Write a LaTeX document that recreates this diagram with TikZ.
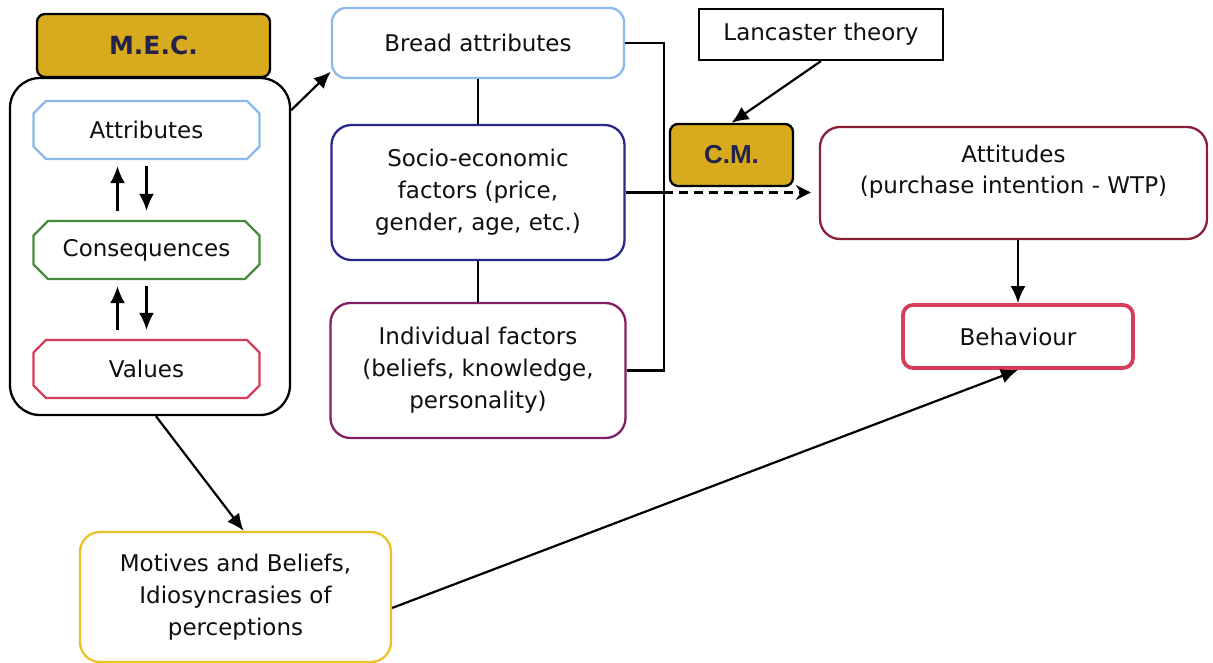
\documentclass[tikz,border=0pt]{standalone}
\usepackage{fontspec}
\setmainfont{DejaVu Sans}
\newfontfamily\cmfont{Liberation Sans}
\usetikzlibrary{shapes.misc,arrows.meta,calc}

\definecolor{gold}{RGB}{216,170,30}
\definecolor{navy}{RGB}{35,35,75}
\definecolor{txt}{RGB}{15,15,15}
\definecolor{lightblue}{RGB}{140,185,235}
\definecolor{leafgreen}{RGB}{70,140,60}
\definecolor{rosered}{RGB}{215,60,90}
\definecolor{deepblue}{RGB}{40,40,140}
\definecolor{plum}{RGB}{130,30,100}
\definecolor{wine}{RGB}{140,30,55}
\definecolor{amber}{RGB}{235,195,40}

\begin{document}
\begin{tikzpicture}[x=1pt,y=-1pt,
  base/.style={draw, line width=2.3pt, fill=white, align=center, inner sep=0pt,
               text=txt, font=\fontsize{23}{32}\selectfont},
  rbox/.style={base, rounded corners=#1},
  rbox/.default=18pt,
  octbox/.style={base, chamfered rectangle, chamfered rectangle xsep=14pt,
                 minimum width=226pt, minimum height=58pt},
  tag/.style={draw=black, line width=2.3pt, fill=gold, rounded corners=8pt,
              text=navy, inner sep=0pt},
  link/.style={line width=2.2pt, draw=black},
  arr/.style={link, -{Latex[length=17pt,width=15pt]}},
]
\useasboundingbox (0,0) rectangle (1213,663);

% means-end chain block
\node[rbox=30pt, minimum width=280pt, minimum height=337pt] (mecbox) at (150,246.5) {};
\node[tag, minimum width=233pt, minimum height=63pt,
      font=\fontsize{25}{28}\selectfont\bfseries] (mec) at (153.5,45.5) {M.E.C.};
\node[octbox, draw=lightblue] (attr) at (146.5,130) {Attributes};
\node[octbox, draw=leafgreen] (cons) at (146.5,250) {Consequences};
\node[octbox, draw=rosered] (vals) at (146.5,369) {Values};

\draw[arr, shorten <=9pt, shorten >=6pt] ([xshift=-29pt]cons.north) -- ([xshift=-29pt]attr.south);
\draw[arr, shorten <=6pt, shorten >=9pt] (attr.south) -- (cons.north);
\draw[arr, shorten <=9pt, shorten >=6pt] ([xshift=-29pt]vals.north) -- ([xshift=-29pt]cons.south);
\draw[arr, shorten <=6pt, shorten >=9pt] (cons.south) -- (vals.north);

% factor column
\node[rbox=14pt, draw=lightblue, minimum width=292pt, minimum height=70pt] (bread) at (478,43) {Bread attributes};
\node[rbox=20pt, draw=deepblue, minimum width=293pt, minimum height=135pt] (socio) at (478,192.5)
  {Socio-economic\\factors (price,\\gender, age, etc.)};
\node[rbox=20pt, draw=plum, minimum width=295pt, minimum height=135pt] (indiv) at (478,370.5)
  {Individual factors\\(beliefs, knowledge,\\personality)};

\draw[link] (bread.south) -- (socio.north);
\draw[link] (socio.south) -- (indiv.north);

\coordinate (rail) at (664,0);
\draw[link] (bread.east) -| (rail |- indiv.east) -- (indiv.east);
\draw[link] (socio.east) -- (rail |- socio.east);

% choice modelling
\node[draw=black, line width=2.2pt, fill=white, inner sep=0pt, text=txt,
      font=\fontsize{23}{28}\selectfont, minimum width=244pt, minimum height=51pt] (lanc) at (821,34.5) {Lancaster theory};
\node[tag, minimum width=123pt, minimum height=62pt,
      font=\fontsize{26}{30}\selectfont\cmfont\bfseries] (cm) at (731.5,155) {C.M.};
\draw[arr] (lanc.south) -- (cm.north);

% outcomes
\node[rbox=20pt, draw=wine, minimum width=387pt, minimum height=112pt] (att) at (1013.5,183) {};
\node[align=center, text=txt, font=\fontsize{23}{31}\selectfont, inner sep=0pt] (atttext) at (1013.5,172)
  {Attitudes\\(purchase intention - WTP)};
\node[rbox=10pt, draw=rosered, line width=3.8pt, minimum width=230pt, minimum height=63pt] (beh) at (1018,336.5) {Behaviour};
\draw[arr] (beh.north |- att.south) -- (beh.north);

\draw[link, dash pattern=on 9pt off 6pt, -{Stealth[length=15pt,width=15pt,inset=5pt]}, shorten >=8pt]
  (rail |- socio.east) -- (att.west |- socio.east);

% motives
\node[rbox=20pt, draw=amber, minimum width=311pt, minimum height=130pt] (mot) at (235.5,597)
  {Motives and Beliefs,\\Idiosyncrasies of\\perceptions};

\draw[arr] (mecbox.44) -- (bread.191);
\draw[arr] (mecbox.-88) -- (mot.83);
\draw[arr] (mot.-4) -- (beh.south);
\end{tikzpicture}
\end{document}
